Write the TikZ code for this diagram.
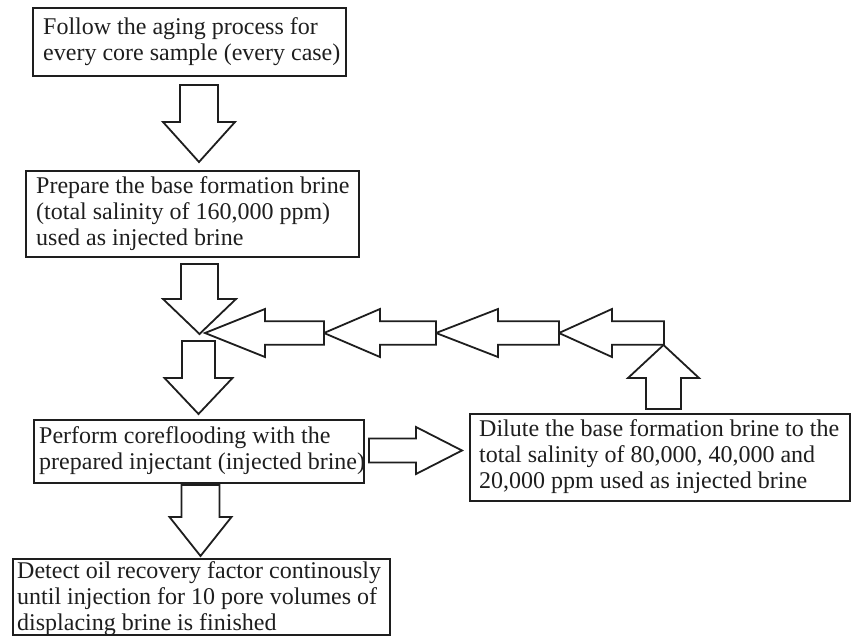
\documentclass[tikz,border=0pt]{standalone}
\usepackage{fontspec}
\setmainfont{Liberation Serif}

% Block arrow along a vertical axis:
% #1 centre x, #2 tail y, #3 head-base y, #4 tip y, #5 shaft half width, #6 head half width
\newcommand\VArrow[6]{%
  \draw[blockarrow] ({#1-#5},#2) -- ({#1+#5},#2) -- ({#1+#5},#3) -- ({#1+#6},#3)
    -- (#1,#4) -- ({#1-#6},#3) -- ({#1-#5},#3) -- cycle;}
% Block arrow along a horizontal axis:
% #1 centre y, #2 tail x, #3 head-base x, #4 tip x, #5 shaft half width, #6 head half width
\newcommand\HArrow[6]{%
  \draw[blockarrow] (#2,{#1-#5}) -- (#3,{#1-#5}) -- (#3,{#1-#6}) -- (#4,#1)
    -- (#3,{#1+#6}) -- (#3,{#1+#5}) -- (#2,{#1+#5}) -- cycle;}

\definecolor{ink}{HTML}{1E1E1E}

\begin{document}
\begin{tikzpicture}[x=1pt,y=-1pt,
  stepbox/.style={draw=ink, line width=1.8pt, anchor=north west, inner sep=0pt},
  txt/.style={anchor=north west, inner sep=0pt, align=left, text=ink,
              font=\fontsize{24}{26}\selectfont},
  blockarrow/.style={draw=ink, line width=1.8pt, line join=miter, fill=white}]

\useasboundingbox (0,0) rectangle (851,642);

% process boxes
\node[stepbox, minimum width=313pt, minimum height=68pt] (b1) at (32,7) {};
\node[stepbox, minimum width=333pt, minimum height=86pt] (b2) at (25,170) {};
\node[stepbox, minimum width=330pt, minimum height=63pt] (b3) at (33,419) {};
\node[stepbox, minimum width=380pt, minimum height=87pt] (b4) at (469,413) {};
\node[stepbox, minimum width=377pt, minimum height=76pt] (b5) at (12,558) {};

% box texts
\node[txt] (t1) at (43,17) {Follow the aging process for\\every core sample (every case)};
\node[txt] (t2) at (36,176) {Prepare the base formation brine\\(total salinity of 160,000 ppm)\\used as injected brine};
\node[txt] (t3) at (39,426) {Perform coreflooding with the\\prepared injectant (injected brine)};
\node[txt] (t4) at (479,419) {Dilute the base formation brine to the\\total salinity of 80,000, 40,000 and\\20,000 ppm used as injected brine};
\node[txt] (t5) at (17,561) {Detect oil recovery factor continously\\until injection for 10 pore volumes of\\displacing brine is finished};

% main downward flow
\VArrow{199}{85}{122}{162}{19}{36}
\VArrow{199.5}{264}{299}{334}{18.5}{36.5}
\VArrow{198.5}{341}{378}{414}{16.5}{34}
\VArrow{200.5}{485}{517}{556}{19}{31}

% coreflooding -> dilution
\HArrow{450.5}{369}{416}{462}{12}{23.5}

% dilution loop back to the injection step
\VArrow{663.5}{409}{378}{345}{17.5}{35.5}
\HArrow{333}{664}{612}{559}{11.75}{24}
\HArrow{333}{559}{498}{436}{11.75}{24}
\HArrow{333}{436}{380}{324}{11.75}{24}
\HArrow{333}{324}{265}{205}{11.75}{24}

\end{tikzpicture}
\end{document}
